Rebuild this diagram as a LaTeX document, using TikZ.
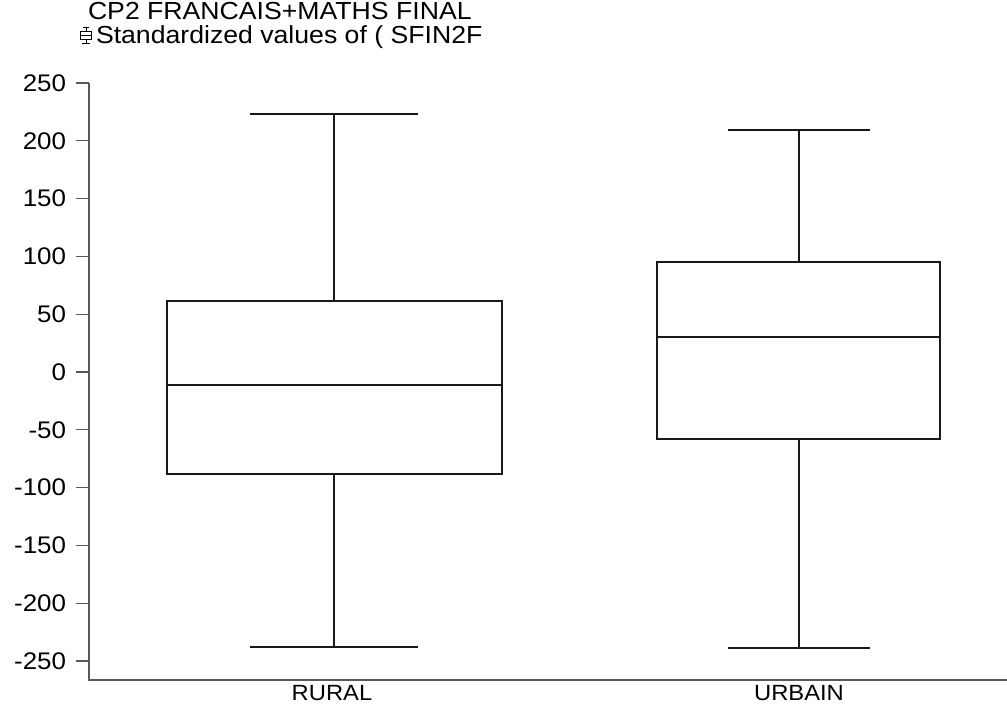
\documentclass[tikz,border=0pt]{standalone}
\usepackage{fontspec}
\setmainfont{Liberation Sans}[FakeStretch=1.08]
\begin{document}
\begin{tikzpicture}[x=0.75pt,y=-0.75pt,
  every node/.style={inner sep=0pt,outer sep=0pt,font=\fontsize{18}{21}\selectfont},
  headtext/.style={anchor=base west,font=\fontsize{18.5}{21}\selectfont},
  axisline/.style={draw=black!65,line width=0.85pt},
  boxline/.style={draw=black!90,line width=0.85pt},
  ticklabel/.style={anchor=east},
  catlabel/.style={anchor=north,font=\fontsize{16.5}{19}\selectfont}]
\useasboundingbox (0,0) rectangle (1007,704);
\fill[white] (0,0) rectangle (1007,704);

% title and legend
\node[headtext] (title) at (88,19) {CP2 FRANCAIS+MATHS FINAL};
\node[headtext] (legend) at (96,43) {Standardized values of ( SFIN2F};
\draw[line width=0.6pt] (83,27) -- (89,27) (86,27) -- (86,31)
  (80.5,31) rectangle (91.5,39) (80.5,35) -- (91.5,35) (86,39) -- (86,43) (82,43) -- (90,43);

% axes
\coordinate (ytop) at (89,83);
\coordinate (orig) at (89,680);
\coordinate (xend) at (1007,680);
\draw[axisline] (ytop) -- (orig) -- (xend);
\foreach \v in {250,200,...,-250}{
  \pgfmathsetmacro{\yy}{372-1.156*\v}
  \draw[axisline] (76,\yy) -- (89,\yy);
  \node[ticklabel] (t\v) at (66,\yy) {\v};
}

% category labels
\node[catlabel] (rural) at (332,685) {RURAL};
\node[catlabel] (urbain) at (799,685) {URBAIN};

% RURAL box plot
\draw[boxline] (250,114) -- (418,114);
\draw[boxline] (334,114) -- (334,301);
\draw[boxline] (167,301) rectangle (502,474);
\draw[boxline] (167,385) -- (502,385);
\draw[boxline] (334,474) -- (334,647);
\draw[boxline] (250,647) -- (418,647);

% URBAIN box plot
\draw[boxline] (728,130) -- (870,130);
\draw[boxline] (799,130) -- (799,262);
\draw[boxline] (657,262) rectangle (940,439);
\draw[boxline] (657,337) -- (940,337);
\draw[boxline] (799,439) -- (799,648);
\draw[boxline] (728,648) -- (870,648);
\end{tikzpicture}
\end{document}
